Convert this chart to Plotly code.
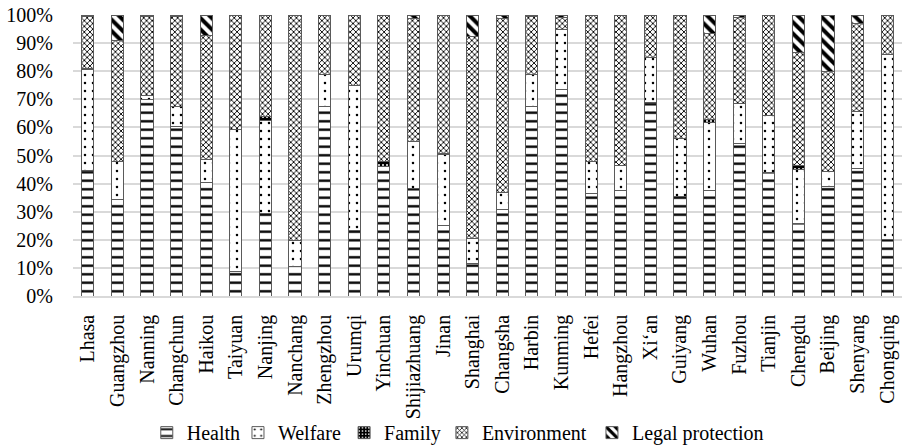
import plotly.graph_objects as go

cities = ["Lhasa", "Guangzhou", "Nanning", "Changchun", "Haikou", "Taiyuan", "Nanjing",
          "Nanchang", "Zhengzhou", "Urumqi", "Yinchuan", "Shijiazhuang", "Jinan", "Shanghai",
          "Changsha", "Harbin", "Kunming", "Hefei", "Hangzhou", "Xi‘an", "Guiyang", "Wuhan",
          "Fuzhou", "Tianjin", "Chengdu", "Beijing", "Shenyang", "Chongqing"]

health = [44.5, 34.4, 70.0, 60.5, 40.3, 8.7, 29.2, 10.4, 67.6, 23.2, 46.0, 38.2, 25.2, 11.4,
          30.8, 67.6, 73.5, 36.5, 37.5, 69.0, 35.3, 37.5, 54.1, 43.8, 25.9, 39.1, 45.3, 20.2]
welfare = [36.0, 13.3, 1.4, 6.9, 8.3, 50.4, 33.2, 9.5, 11.4, 51.8, 0.0, 16.8, 25.0, 9.0,
           6.0, 11.2, 21.2, 11.2, 9.0, 15.9, 20.9, 24.4, 14.5, 20.5, 19.2, 5.3, 20.4, 65.7]
family = [0.3, 0.2, 0.0, 0.0, 0.0, 0.0, 1.4, 0.0, 0.0, 0.0, 1.7, 0.0, 0.6, 0.0,
          0.0, 0.0, 0.0, 0.0, 0.0, 0.0, 0.0, 1.0, 0.0, 0.0, 1.2, 0.0, 0.0, 0.0]
environment = [18.7, 43.0, 28.1, 32.2, 44.2, 40.6, 36.0, 79.8, 20.8, 24.8, 52.0, 43.9, 49.0, 72.1,
               61.9, 20.8, 4.5, 52.1, 53.3, 14.9, 43.6, 30.6, 30.6, 35.5, 40.5, 35.6, 31.1, 13.8]
legal = [0.5, 9.1, 0.5, 0.4, 7.2, 0.3, 0.2, 0.3, 0.2, 0.2, 0.3, 1.1, 0.2, 7.5,
         1.3, 0.4, 0.8, 0.2, 0.2, 0.2, 0.2, 6.5, 0.8, 0.2, 13.2, 20.0, 3.2, 0.3]

series = [
    ("Health", health, dict(shape="-", size=8.5, solidity=0.28, fgcolor="black", bgcolor="white")),
    ("Welfare", welfare, dict(shape=".", size=8, solidity=0.08, fgcolor="black", bgcolor="white")),
    ("Family", family, dict(shape=".", size=4, solidity=0.2, fgcolor="white", bgcolor="black")),
    ("Environment", environment, dict(shape="x", size=4, solidity=0.4, fgcolor="black", bgcolor="white")),
    ("Legal protection", legal, dict(shape="\\", size=8, solidity=0.5, fgcolor="black", bgcolor="white")),
]

# left edge (paper x) of each legend entry along the bottom row
legend_x = [0.089, 0.199, 0.327, 0.445, 0.626]

font = "Liberation Serif"
fig = go.Figure()
legend_layout = {}
for i, (name, vals, pat) in enumerate(series):
    key = "legend" if i == 0 else f"legend{i + 1}"
    fig.add_trace(go.Bar(
        x=cities, y=vals, name=name, width=0.41, legend=key,
        marker=dict(color="white", pattern=dict(fillmode="replace", **pat),
                    line=dict(color="#5a5a5a", width=1)),
    ))
    legend_layout[key] = dict(orientation="h", x=legend_x[i], xanchor="left",
                              y=0.03, yref="container", yanchor="middle", itemwidth=30,
                              font=dict(family=font, size=20, color="black"),
                              bgcolor="rgba(0,0,0,0)")

fig.update_layout(
    barmode="stack", barnorm="percent",
    width=905, height=446,
    margin=dict(l=73, r=3, t=15, b=150, autoexpand=False),
    paper_bgcolor="white", plot_bgcolor="white",
    font=dict(family=font, size=20, color="black"),
    showlegend=True,
    xaxis=dict(tickangle=-90, showgrid=False, showline=True, linecolor="#d9d9d9",
               linewidth=1.5, ticks="outside", ticklen=9, tickcolor="rgba(0,0,0,0)",
               automargin=False, tickfont=dict(family=font, size=20)),
    yaxis=dict(range=[0, 100], dtick=10, ticksuffix="%", showgrid=True,
               gridcolor="#d9d9d9", gridwidth=1.5, zeroline=False, showline=False,
               ticks="outside", ticklen=15, tickcolor="rgba(0,0,0,0)",
               automargin=False, tickfont=dict(family=font, size=20)),
    **legend_layout,
)

fig.write_html("out.html")
